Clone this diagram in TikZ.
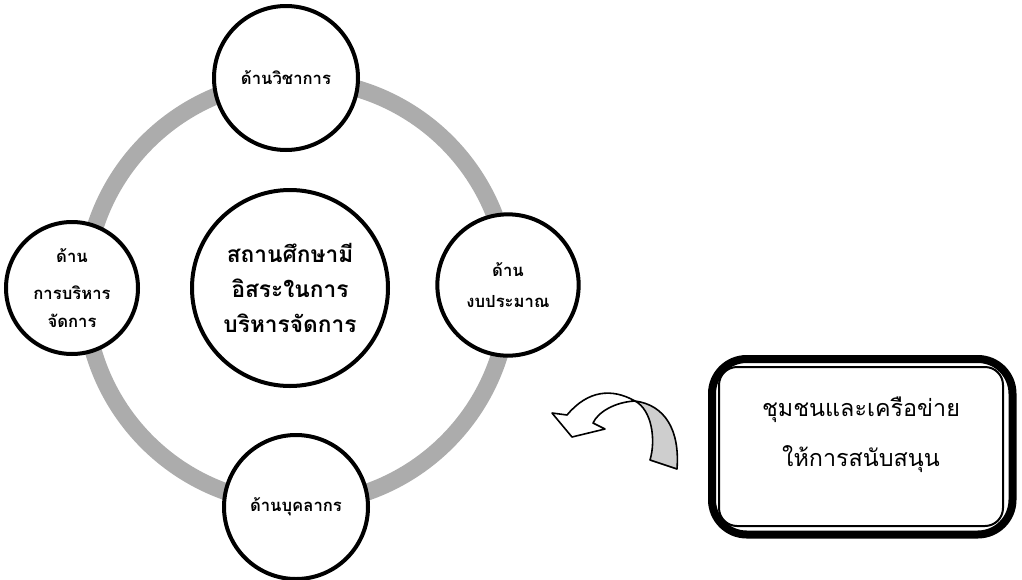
\documentclass[tikz,border=0pt]{standalone}
\usepackage{fontspec}
\newfontfamily\thaifont[Script=Thai]{Loma}
\definecolor{ringgray}{RGB}{172,172,172}
\definecolor{foldgray}{RGB}{206,206,206}
\tikzset{
  aspect/.style={circle, draw, line width=3pt, fill=white, inner sep=0pt, align=center,
    font=\thaifont\bfseries\fontsize{12.5}{21}\selectfont},
  hub/.style={aspect, font=\thaifont\bfseries\fontsize{17}{26}\selectfont},
}
\begin{document}
\begin{tikzpicture}[x=0.75pt, y=-0.75pt]
  %%%%% START %%%%%
  \useasboundingbox (0,0) rectangle (1022,579);

  % ring behind the circles
  \draw[line width=12.75pt, color=ringgray] (297,292) circle (212);

  \node[hub, minimum size=147pt] (school) at (290,288) {สถานศึกษามี\\อิสระในการ\\บริหารจัดการ};

  \node[aspect, minimum size=108pt] (academic) at (286,78) {ด้านวิชาการ};
  \node[aspect, minimum size=106pt] (budget) at (508,285) {ด้าน\\[2pt]งบประมาณ};
  \node[aspect, minimum size=108pt] (staff) at (296,507) {ด้านบุคลากร};
  \node[aspect, minimum size=99pt] (admin) at (72,288) {ด้าน\\[7pt]การบริหาร\\จัดการ};

  % community box with double frame
  \draw[line width=6pt, rounded corners=26] (712,359) rectangle (1012.5,534.5);
  \node[draw, line width=1.5pt, rounded corners=13.5pt, minimum width=213pt, minimum height=119.25pt] (support) at (861,446.5) {};
  \node[align=center, font=\thaifont\fontsize{17.5}{37.5}\selectfont] (supporttext) at (861,435) {ชุมชนและเครือข่าย\\ให้การสนับสนุน};

  % curved arrow
  \draw[line width=1.2pt, fill=foldgray, line join=round] (635,401) .. controls (652,410) and (656,440) .. (650,460)
    -- (677,469) .. controls (680,430) and (665,405) .. (635,401) -- cycle;
  \draw[line width=1.2pt, fill=white, line join=round] (635,401) .. controls (612,388) and (588,390) .. (567,415)
    -- (552,413) -- (572,437) -- (605,429) -- (593,423) .. controls (598,412) and (615,402) .. (635,401) -- cycle;

  %%%%% END %%%%%
\end{tikzpicture}
\end{document}
